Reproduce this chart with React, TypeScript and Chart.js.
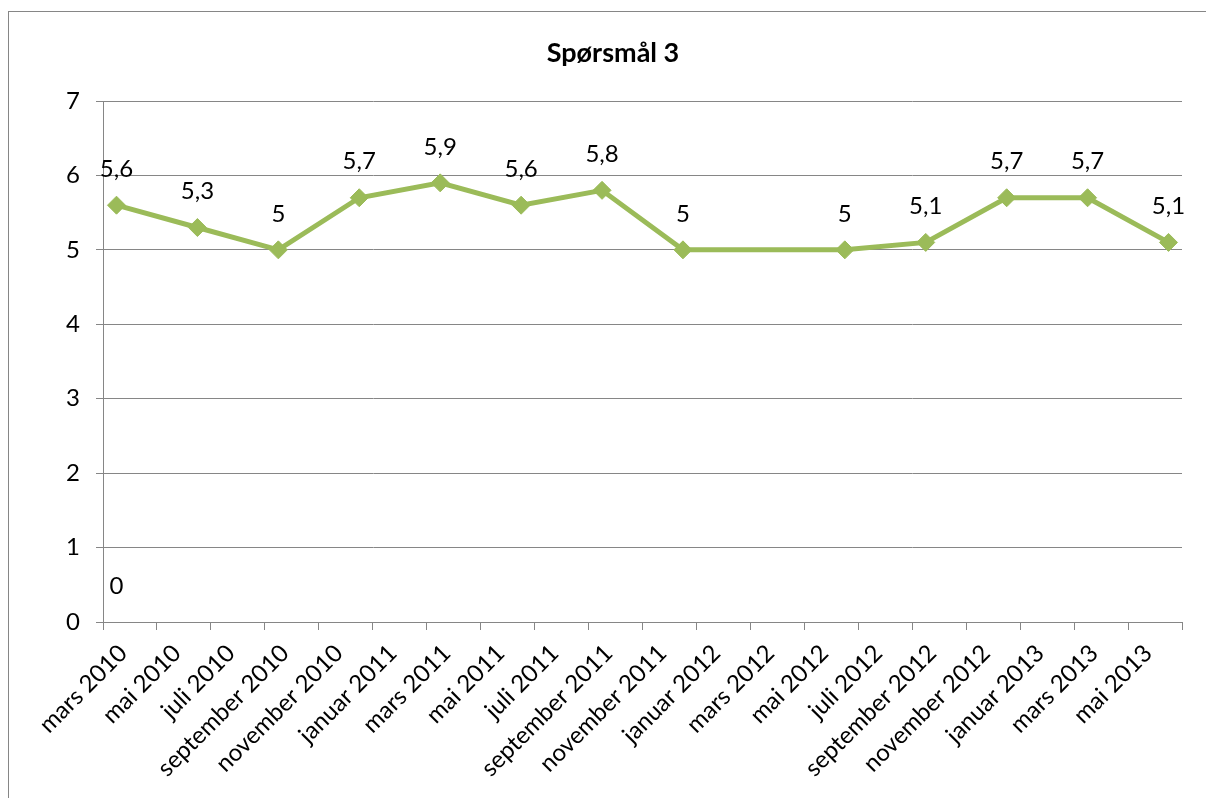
import React, { useEffect, useRef } from "react";
import { Chart, registerables } from "chart.js";

Chart.register(...registerables);

const chartTitle = "Spørsmål 3";
const tickLabels = [
  "mars 2010", "mai 2010", "juli 2010", "september 2010", "november 2010",
  "januar 2011", "mars 2011", "mai 2011", "juli 2011", "september 2011",
  "november 2011", "januar 2012", "mars 2012", "mai 2012", "juli 2012",
  "september 2012", "november 2012", "januar 2013", "mars 2013", "mai 2013",
];
const axisStartMonth = "2010-03";
const axisMonthCount = 40;
const surveyMonths = [
  "2010-03", "2010-06", "2010-09", "2010-12", "2011-03", "2011-06", "2011-09",
  "2011-12", "2012-06", "2012-09", "2012-12", "2013-03", "2013-06",
];
const surveyValues = [5.6, 5.3, 5, 5.7, 5.9, 5.6, 5.8, 5, 5, 5.1, 5.7, 5.7, 5.1];
const zeroMonths = ["2010-03"];
const zeroValues = [0];
const yMin = 0;
const yMax = 7;

const FONT = "Lato, 'Open Sans', sans-serif";
const GREEN = "#9BBB59";
const GRID = "#868686";

function monthIndex(s: string): number {
  const [y, m] = s.split("-").map(Number);
  const [y0, m0] = axisStartMonth.split("-").map(Number);
  return (y - y0) * 12 + (m - m0) + 0.5; // centre of the month
}

const valueLabels = {
  id: "valueLabels",
  afterDatasetsDraw(chart: any) {
    const ctx = chart.ctx;
    ctx.save();
    ctx.font = `24px ${FONT}`;
    ctx.fillStyle = "#000";
    ctx.textAlign = "center";
    ctx.textBaseline = "middle";
    chart.data.datasets.forEach((ds: any, i: number) => {
      const meta = chart.getDatasetMeta(i);
      meta.data.forEach((el: any, j: number) => {
        const v = ds.data[j].y;
        ctx.fillText(String(v).replace(".", ","), el.x, el.y - 36);
      });
    });
    ctx.restore();
  },
};

const titleDrawer = {
  id: "titleDrawer",
  afterDraw(chart: any) {
    const ctx = chart.ctx;
    ctx.save();
    ctx.font = `bold 27px ${FONT}`;
    ctx.fillStyle = "#000";
    ctx.textAlign = "center";
    ctx.textBaseline = "middle";
    ctx.fillText(chartTitle, 613, 53);
    ctx.restore();
  },
};

export default function App() {
  const ref = useRef<HTMLCanvasElement | null>(null);

  useEffect(() => {
    if (!ref.current) return;
    const chart = new Chart(ref.current, {
      type: "line",
      data: {
        datasets: [
          {
            label: chartTitle,
            data: surveyMonths.map((m, i) => ({ x: monthIndex(m), y: surveyValues[i] })),
            borderColor: GREEN,
            backgroundColor: GREEN,
            borderWidth: 5,
            pointStyle: "rectRot",
            pointRadius: 9,
            pointBorderWidth: 1,
            pointBorderColor: GREEN,
            pointBackgroundColor: GREEN,
            tension: 0,
          },
          {
            label: "0",
            data: zeroMonths.map((m, i) => ({ x: monthIndex(m), y: zeroValues[i] })),
            showLine: false,
            pointRadius: 0,
            borderColor: GREEN,
          },
        ],
      },
      options: {
        responsive: false,
        animation: false,
        layout: { padding: { left: 0, right: 24, top: 101, bottom: 0 } },
        plugins: {
          legend: { display: false },
          tooltip: { enabled: false },
          title: { display: false },
        },
        scales: {
          x: {
            type: "linear",
            min: 0,
            max: axisMonthCount,
            border: { color: GRID, width: 1 },
            grid: { drawOnChartArea: false, drawTicks: true, tickLength: 8, color: GRID },
            ticks: {
              stepSize: 2,
              autoSkip: false,
              minRotation: 45,
              maxRotation: 45,
              labelOffset: 20,
              padding: 9,
              color: "#000",
              font: { family: FONT, size: 24 },
              callback: (v: any) => tickLabels[Math.round(Number(v) / 2)] ?? "",
            },
            afterFit: (s: any) => {
              s.height = 176;
              s.paddingRight = 0;
              s.paddingLeft = 0;
            },
          },
          y: {
            min: yMin,
            max: yMax,
            border: { color: GRID, width: 1 },
            grid: { color: GRID, tickLength: 7, drawTicks: true },
            ticks: {
              stepSize: 1,
              padding: 16,
              color: "#000",
              font: { family: FONT, size: 24 },
            },
            afterFit: (s: any) => { s.width = 103; },
          },
        },
      },
      plugins: [valueLabels, titleDrawer],
    });
    return () => chart.destroy();
  }, []);

  return (
    <div style={{ position: "fixed", left: 0, top: 0, width: 1206, height: 798, background: "#fff", overflow: "hidden" }}>
      <div style={{ position: "absolute", left: 8, top: 11, width: 1400, height: 1000, border: `1px solid ${GRID}` }} />
      <canvas ref={ref} width={1206} height={798} style={{ position: "absolute", left: 0, top: 0, display: "block" }} />
    </div>
  );
}
